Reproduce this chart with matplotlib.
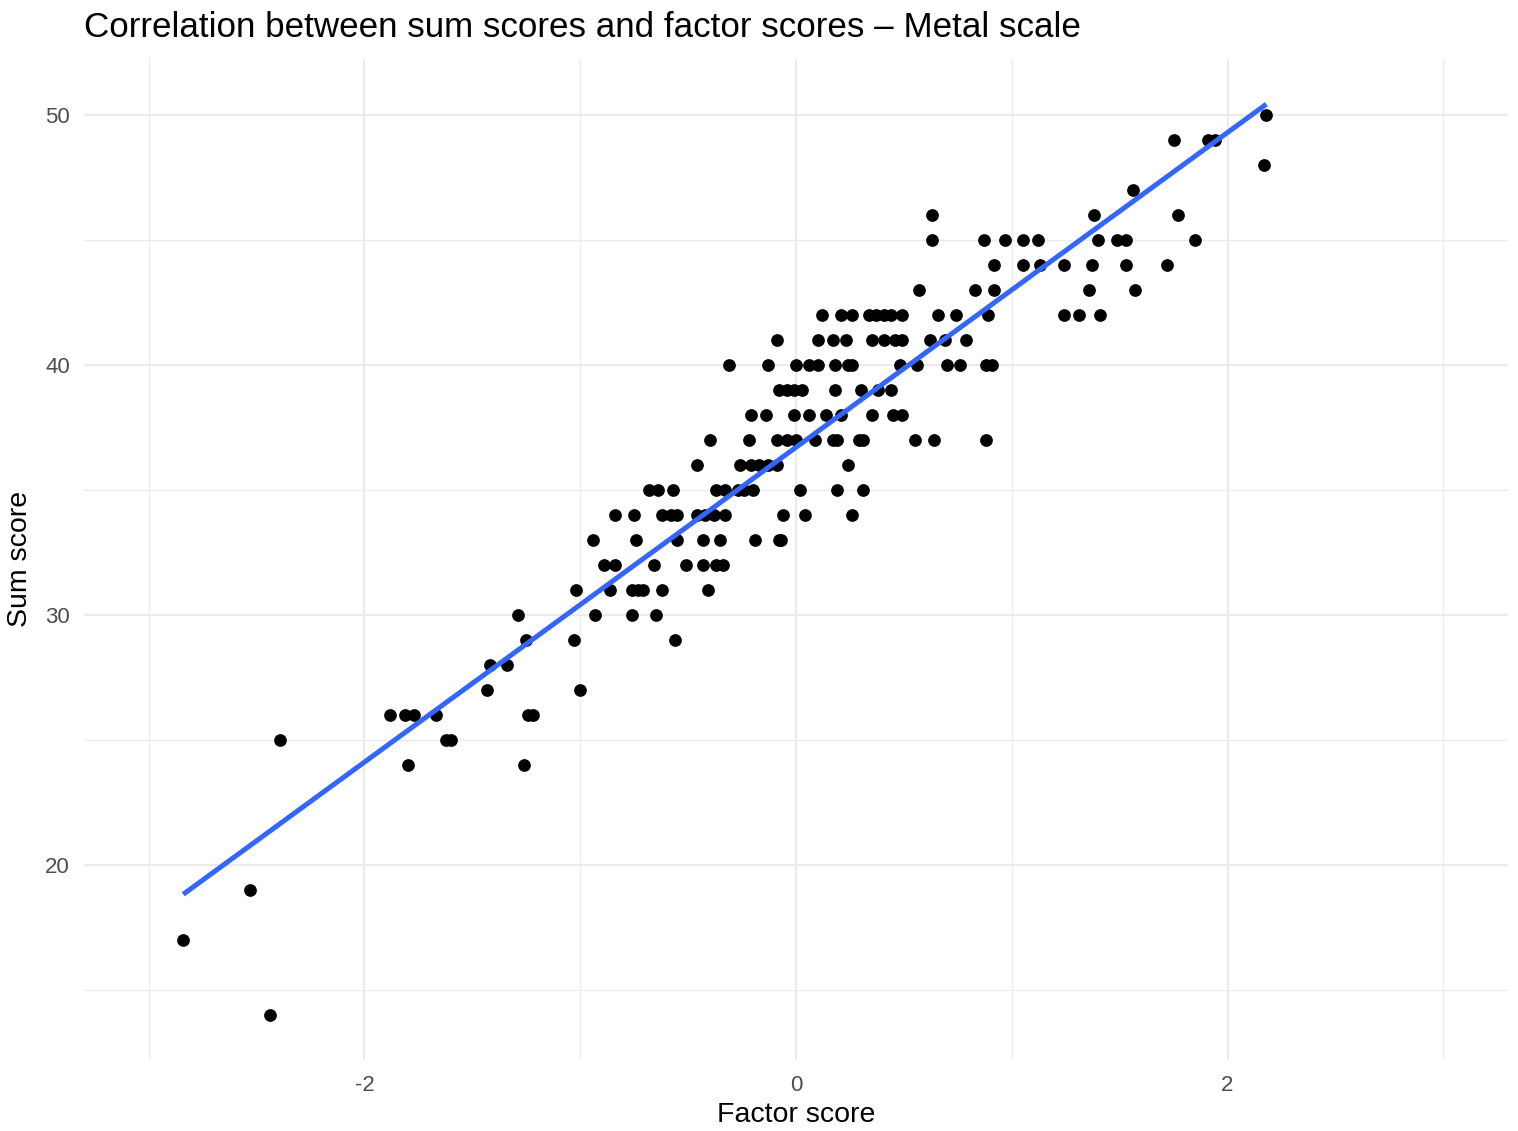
import numpy as np
import matplotlib
matplotlib.use("Agg")
import matplotlib.pyplot as plt
from matplotlib.ticker import MultipleLocator

plt.rcParams['font.family'] = ['Liberation Sans', 'DejaVu Sans']

# factor scores and sum scores (sum score 50 down to 14)
factor_score = [
  2.18,
  1.75, 1.91, 1.94,
  2.17,
  1.56,
  0.63, 1.38, 1.77,
  0.63, 0.87, 0.97, 1.05, 1.12, 1.40, 1.49, 1.53, 1.85,
  0.92, 1.05, 1.13, 1.24, 1.37, 1.53, 1.72,
  0.57, 0.83, 0.92, 1.36, 1.57,
  0.12, 0.21, 0.26, 0.34, 0.37, 0.41, 0.44, 0.49, 0.66, 0.74, 0.89, 1.24, 1.31, 1.41,
  -0.09, 0.10, 0.17, 0.23, 0.35, 0.41, 0.46, 0.49, 0.62, 0.69, 0.79,
  -0.31, -0.13, 0.00, 0.06, 0.10, 0.18, 0.24, 0.26, 0.48, 0.56, 0.70, 0.76, 0.88, 0.91,
  -0.08, -0.04, -0.01, 0.03, 0.18, 0.30, 0.38, 0.44,
  -0.21, -0.14, -0.01, 0.06, 0.14, 0.21, 0.35, 0.45, 0.49,
  -0.40, -0.22, -0.09, -0.04, 0.00, 0.09, 0.17, 0.19, 0.29, 0.31, 0.55, 0.64, 0.88,
  -0.46, -0.26, -0.21, -0.17, -0.13, -0.09, 0.24,
  -0.68, -0.64, -0.57, -0.37, -0.33, -0.27, -0.24, -0.20, 0.02, 0.19, 0.31,
  -0.84, -0.75, -0.62, -0.58, -0.55, -0.46, -0.42, -0.38, -0.33, -0.06, 0.04, 0.26,
  -0.94, -0.74, -0.55, -0.43, -0.35, -0.19, -0.08, -0.07,
  -0.89, -0.84, -0.66, -0.51, -0.43, -0.37, -0.34,
  -1.02, -0.86, -0.76, -0.73, -0.71, -0.62, -0.41,
  -1.29, -0.93, -0.76, -0.65,
  -1.25, -1.03, -0.56,
  -1.42, -1.34,
  -1.43, -1.00,
  -1.88, -1.81, -1.77, -1.67, -1.24, -1.22,
  -2.39, -1.62, -1.60,
  -1.80, -1.26,
  -2.53,
  -2.84,
  -2.44,
]
sum_score = (
  [50] * 1 + [49] * 3 + [48] * 1 + [47] * 1 + [46] * 3 + [45] * 9 + [44] * 7 +
  [43] * 5 + [42] * 14 + [41] * 11 + [40] * 14 + [39] * 8 + [38] * 9 +
  [37] * 13 + [36] * 7 + [35] * 11 + [34] * 12 + [33] * 8 + [32] * 7 +
  [31] * 7 + [30] * 4 + [29] * 3 + [28] * 2 + [27] * 2 + [26] * 6 +
  [25] * 3 + [24] * 2 + [19] * 1 + [17] * 1 + [14] * 1
)

titleText = "Correlation between sum scores and factor scores \u2013 Metal scale"
xTicks = [-2, 0, 2]
yTicks = [20, 30, 40, 50]

x = np.array(factor_score)
y = np.array(sum_score)

fig = plt.figure(figsize=(15.18, 11.31), dpi=100)
ax = fig.add_axes([84 / 1518, 1 - 1060 / 1131, (1508 - 84) / 1518, (1060 - 59) / 1131])

# grid like theme_minimal
ax.set_axisbelow(True)
ax.xaxis.set_major_locator(MultipleLocator(2))
ax.xaxis.set_minor_locator(MultipleLocator(1))
ax.yaxis.set_major_locator(MultipleLocator(10))
ax.yaxis.set_minor_locator(MultipleLocator(5))
ax.grid(which='major', color='#EBEBEB', linewidth=1.5)
ax.grid(which='minor', color='#EBEBEB', linewidth=0.9)
for s in ax.spines.values():
  s.set_visible(False)

ax.scatter(x, y, s=84, color='black', linewidths=0, zorder=3)

# lm fit
slope, intercept = np.polyfit(x, y, 1)
xs = np.array([x.min(), x.max()])
ax.plot(xs, intercept + slope * xs, color='#3366FF', linewidth=3.6, zorder=4, solid_capstyle='butt')

ax.set_xlim(-3.3, 3.3)
ax.set_ylim(12.2, 52.24)
ax.set_xticks(xTicks)
ax.set_xticklabels([str(t) for t in xTicks])
ax.set_yticks(yTicks)
ax.set_yticklabels([str(t) for t in yTicks])
ax.tick_params(which='both', length=0, labelsize=16, labelcolor='#4D4D4D')
ax.tick_params(axis='x', pad=11)
ax.tick_params(axis='y', pad=10)

fig.text(84 / 1518, 1 - 37 / 1131, titleText, fontsize=25.2, color='black', ha='left', va='baseline')
fig.text(796 / 1518, 1 - 1115 / 1131, "Factor score", fontsize=20.5, color='black', ha='center', va='center')
fig.text(20 / 1518, 1 - 559 / 1131, "Sum score", fontsize=20.5, color='black', ha='center', va='center', rotation=90)

fig.savefig("out.png", dpi=100)
